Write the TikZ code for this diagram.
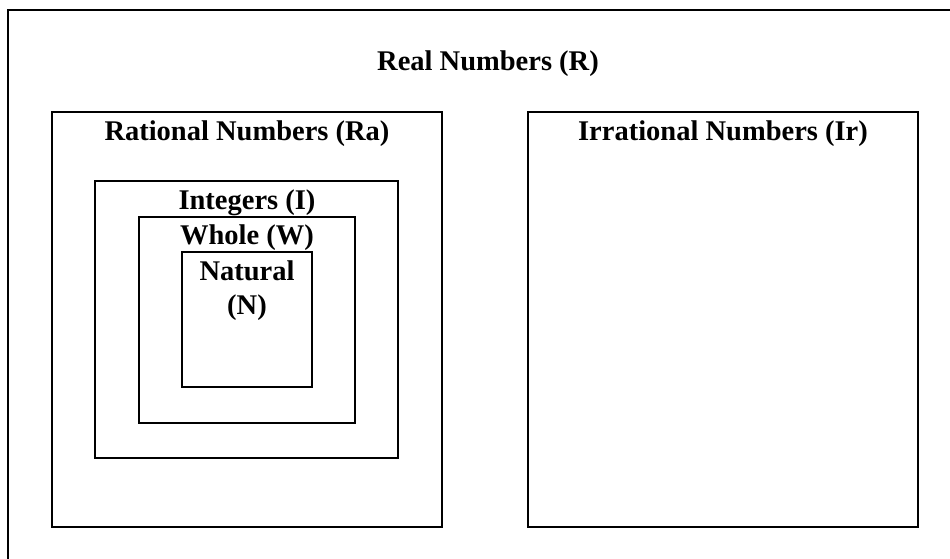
\documentclass[tikz,border=0pt]{standalone}
\usepackage{fontspec}
\setmainfont{Liberation Serif}
\begin{document}
\begin{tikzpicture}[x=1pt,y=-1pt,
  setbox/.style={draw=black,line width=2.6pt,inner sep=0pt,outer sep=0pt,fill=none},
  lbl/.style={anchor=base,inner sep=0pt,font=\fontsize{28.5}{34}\selectfont\bfseries}]
\useasboundingbox (0,0) rectangle (950,558);
\fill[white] (0,0) rectangle (950,558);
\clip (0,0) rectangle (950,558);
\node[setbox,minimum width=960pt,minimum height=570pt] (real) at (488,295) {};
\node[setbox,minimum width=390pt,minimum height=415pt] (ra) at (247,319.5) {};
\node[setbox,minimum width=390pt,minimum height=415pt] (ir) at (723,319.5) {};
\node[setbox,minimum width=303pt,minimum height=277pt] (int) at (246.5,319.5) {};
\node[setbox,minimum width=216pt,minimum height=206pt] (whole) at (247,320) {};
\node[setbox,minimum width=130pt,minimum height=135pt] (nat) at (247,319.5) {};
\node[lbl] (treal) at (488,70) {Real Numbers (R)};
\node[lbl] (tra) at (247,140) {Rational Numbers (Ra)};
\node[lbl] (tir) at (723,140) {Irrational Numbers (Ir)};
\node[lbl] (tint) at (247,209) {Integers (I)};
\node[lbl] (twhole) at (247,244) {Whole (W)};
\node[lbl] (tnat) at (247,280) {Natural};
\node[lbl] (tn) at (247,314) {(N)};
\end{tikzpicture}
\end{document}
